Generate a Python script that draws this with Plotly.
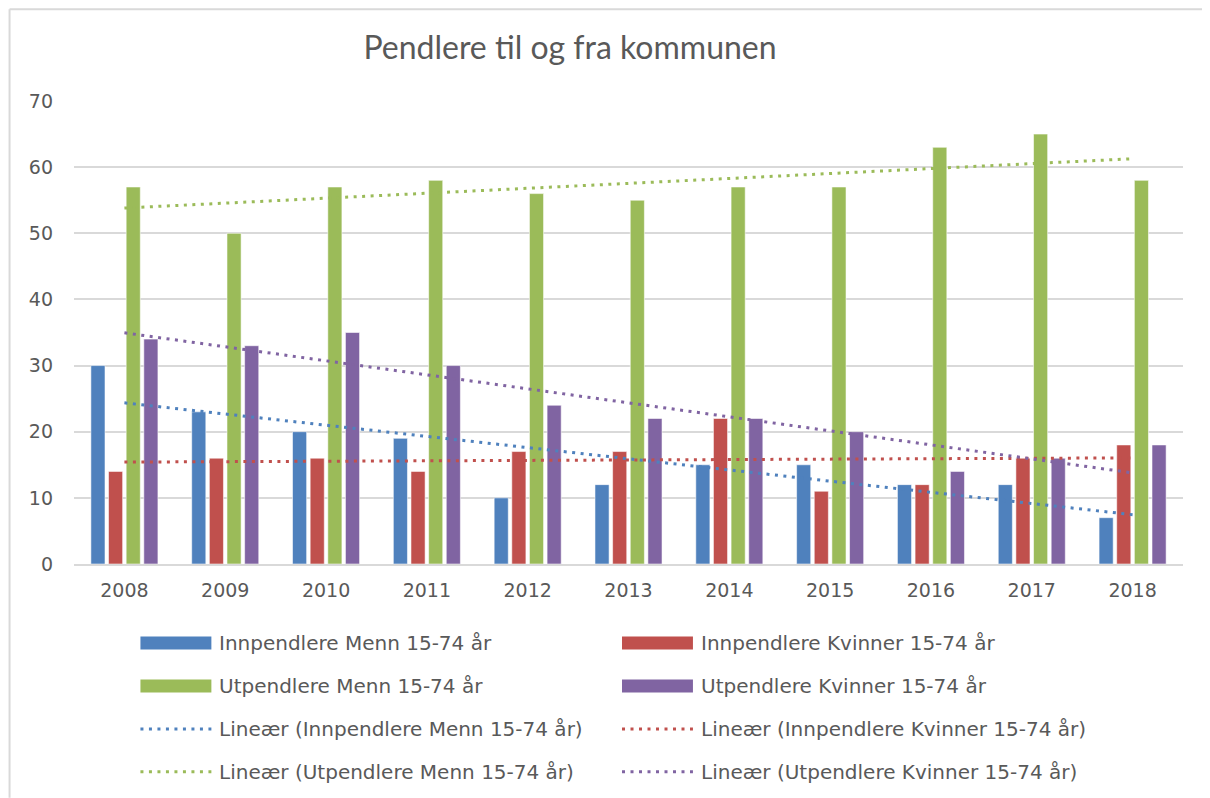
import numpy as np
import plotly.graph_objects as go

years = ["2008", "2009", "2010", "2011", "2012", "2013", "2014", "2015", "2016", "2017", "2018"]
inn_menn = [30, 23, 20, 19, 10, 12, 15, 15, 12, 12, 7]
inn_kvinner = [14, 16, 16, 14, 17, 17, 22, 11, 12, 16, 18]
ut_menn = [57, 50, 57, 58, 56, 55, 57, 57, 63, 65, 58]
ut_kvinner = [34, 33, 35, 30, 24, 22, 22, 20, 14, 16, 18]

series_names = ["Innpendlere Menn 15-74 år", "Innpendlere Kvinner 15-74 år",
                "Utpendlere Menn 15-74 år", "Utpendlere Kvinner 15-74 år"]
colors = ["#4F81BD", "#C0504D", "#9BBB59", "#8064A2"]
series = [inn_menn, inn_kvinner, ut_menn, ut_kvinner]

# the page adds an 8px body margin, so the figure is 8px smaller and all page positions shift by 8
OFF = 8
W, H = 1210 - OFF, 798 - OFF
L, R, T, B = 73.5 - OFF, 26.5, 100.7 - OFF, 234
PW, PH = W - L - R, H - T - B
TXT = "#595959"
FONT = "DejaVu Sans"

fig = go.Figure()

for name, col, vals in zip(series_names, colors, series):
    fig.add_trace(go.Bar(x=years, y=vals, name=name, marker=dict(color=col, line=dict(color="rgba(255,255,255,0.55)", width=1)),
                         showlegend=False))

# linear trendlines (least squares over the category index, like Excel)
idx = np.arange(len(years))
for name, col, vals in zip(series_names, colors, series):
    k, m = np.polyfit(idx, vals, 1)
    fig.add_trace(go.Scatter(x=years, y=k * idx + m, mode="lines", name=f"Lineær ({name})",
                             line=dict(color=col, width=3, dash="3px,5.5px"), showlegend=False))

# page pixel -> paper coords
def px2x(px): return (px - OFF - L) / PW
def py2y(py): return (H - B - (py - OFF)) / PH

# manual legend, two columns
shapes, annos = [], []
legend_order = [(0, "bar"), (1, "bar"), (2, "bar"), (3, "bar"), (0, "line"), (1, "line"), (2, "line"), (3, "line")]
for i, (s, kind) in enumerate(legend_order):
    row, colpos = i // 2, i % 2
    yc = 643 + row * 43
    x0 = 140 if colpos == 0 else 622
    x1 = x0 + 71
    if kind == "bar":
        shapes.append(dict(type="rect", xref="paper", yref="paper", x0=px2x(x0), x1=px2x(x1),
                           y0=py2y(yc + 6.5), y1=py2y(yc - 6.5), fillcolor=colors[s], line=dict(width=0)))
        label = series_names[s]
    else:
        shapes.append(dict(type="line", xref="paper", yref="paper", x0=px2x(x0), x1=px2x(x1),
                           y0=py2y(yc), y1=py2y(yc), line=dict(color=colors[s], width=3, dash="3px,5.5px")))
        label = f"Lineær ({series_names[s]})"
    annos.append(dict(text=label, xref="paper", yref="paper", x=px2x(x1 + 6), y=py2y(yc),
                      xanchor="left", yanchor="middle", showarrow=False, font=dict(family=FONT, size=20, color=TXT)))

# chart border (top and left edges are the visible ones)
shapes.append(dict(type="line", xref="paper", yref="paper", x0=px2x(9), x1=px2x(1210), y0=py2y(9), y1=py2y(9),
                   line=dict(color="#D9D9D9", width=2), layer="below"))
shapes.append(dict(type="line", xref="paper", yref="paper", x0=px2x(9), x1=px2x(9), y0=py2y(9), y1=py2y(798),
                   line=dict(color="#D9D9D9", width=2), layer="below"))

fig.update_layout(
    width=W, height=H,
    margin=dict(l=L, r=R, t=T, b=B),
    paper_bgcolor="white", plot_bgcolor="white",
    barmode="group", bargap=0.3, bargroupgap=0.2,
    title=dict(text="Pendlere til og fra kommunen", x=px2x(570) * PW / W + L / W, xanchor="center",
               y=1 - (48 - OFF) / H, yanchor="middle",
               font=dict(family="Lato", size=32, color=TXT)),
    xaxis=dict(type="category", showgrid=False, showline=True, linecolor="#D9D9D9", linewidth=1.5,
               ticks="", tickfont=dict(family=FONT, size=19, color=TXT), ticklabelstandoff=8),
    yaxis=dict(range=[0, 70], dtick=10, showgrid=True, gridcolor="#D9D9D9", gridwidth=1.5, zeroline=False,
               ticks="", tickfont=dict(family=FONT, size=19, color=TXT), ticklabelstandoff=20),
    shapes=shapes, annotations=annos,
)

fig.write_html("out.html")
